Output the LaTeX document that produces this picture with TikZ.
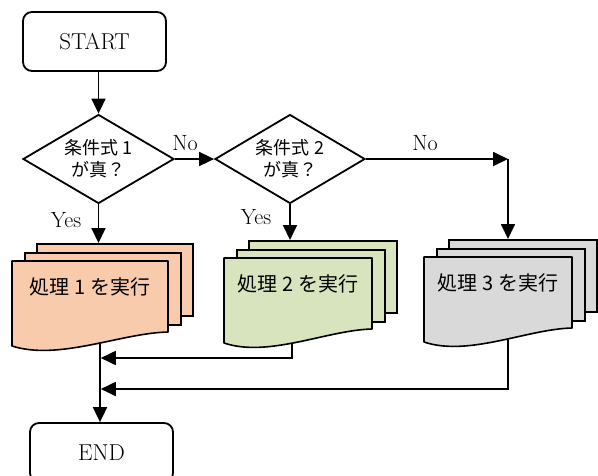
\documentclass[tikz,border=0pt]{standalone}
\usepackage{fontspec}
\newfontfamily\jp{Noto Sans CJK JP}
\usetikzlibrary{shapes.geometric,arrows.meta}
\pgfdeclarelayer{bg}
\pgfsetlayers{bg,main}
\definecolor{peach}{HTML}{F8CBAD}
\definecolor{sage}{HTML}{D7E4BD}
\definecolor{lgray}{HTML}{D9D9D9}
\tikzset{
  ln/.style={line width=1.8pt},
  arr/.style={ln, -{Triangle[length=15pt,width=14pt]}},
  term/.style={draw, ln, rounded corners=9pt, minimum width=143pt, minimum height=59pt, inner sep=0pt, font=\fontsize{23}{26}\selectfont},
  dec/.style={draw, ln, diamond, aspect=1.7, inner sep=0pt, minimum width=151pt, minimum height=89pt, align=center, font=\jp\fontsize{18}{22}\selectfont},
  page/.style={draw, line width=1.6pt, rectangle, inner sep=0pt, minimum height=72pt, anchor=north west},
  lbl/.style={font=\fontsize{22}{24}\selectfont},
  ptext/.style={font=\jp\fontsize{20}{24}\selectfont}
}
% #1 name, #2 x0, #3 top, #4 width, #5 fill, #6 text
\newcommand\multidoc[6]{%
  \node[page, fill=#5, minimum width=#4] (#1b) at ({#2+24},{#3-18}) {};
  \node[page, fill=#5, minimum width=#4] (#1m) at ({#2+12},{#3-9}) {};
  \draw[fill=#5, line width=1.6pt, line join=round] (#2,#3) -- ({#2+#4},#3) -- ({#2+#4},{#3+71})
    .. controls ({#2+0.7*#4},{#3+72}) and ({#2+0.3*#4},{#3+100}) .. (#2,{#3+85}) -- cycle;
  \node[ptext] (#1) at ({#2+#4/2},{#3+26}) {#6};
}
\begin{document}
\begin{tikzpicture}[x=1pt,y=-1pt]
\useasboundingbox (0,0) rectangle (598,475);
\node[term] (start) at (94.5,41.5) {START};
\node[dec] (d1) at (98.5,159) {条件式 1\\が真？};
\node[dec, minimum width=150pt] (d2) at (290,159) {条件式 2\\が真？};
\coordinate (c3) at (508,159);

\multidoc{p1}{12}{261}{156}{peach}{処理 1 を実行}
\multidoc{p2}{224}{258}{148}{sage}{処理 2 を実行}
\multidoc{p3}{424}{257}{148}{lgray}{処理 3 を実行}

\node[term] (endn) at (101.5,452.5) {END};

\node[lbl] (no1) at (185,143) {No};
\node[lbl] (no2) at (425,143) {No};
\node[lbl] (yes1) at (66,220) {Yes};
\node[lbl] (yes2) at (256,217) {Yes};

\draw[arr] (start.south -| d1.north) -- (d1.north);
\draw[arr] (d1.south) -- (d1.south |- p1b.north);
\draw[arr] (d1.east) -- (d2.west);
\draw[arr] (d2.south) -- (d2.south |- p2b.north);
\draw[arr] (d2.east) -- (c3);
\draw[arr] (c3) -- (c3 |- p3b.north);

\coordinate (e1) at (100,300);
\coordinate (e2) at (292,300);
\coordinate (e3) at (508,300);
\coordinate (j1) at (100,358);
\coordinate (j2) at (100,389);
\begin{pgfonlayer}{bg}
\draw[arr, shorten >=0.8pt] (e2) |- (j1);
\draw[arr, shorten >=0.8pt] (e3) |- (j2);
\draw[arr] (e1) -- (e1 |- endn.north);
\end{pgfonlayer}
\end{tikzpicture}
\end{document}
